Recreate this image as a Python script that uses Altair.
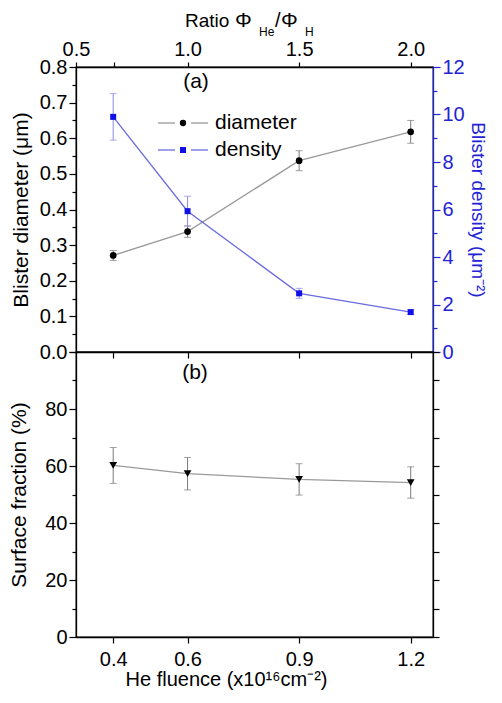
import altair as alt
import pandas as pd

# ---------------- data ----------------
fluence = [0.4, 0.6, 0.9, 1.2]
ratio = [0.67, 1.0, 1.5, 2.0]
diameter = [0.271, 0.338, 0.537, 0.618]
diameter_err = [0.014, 0.016, 0.028, 0.032]
density = [9.9, 5.93, 2.47, 1.68]
density_err = [0.98, 0.63, 0.21, 0.10]
surface = [60.2, 57.3, 55.3, 54.2]
surface_err = [6.3, 5.7, 5.5, 5.5]

x_ticks = [0.4, 0.6, 0.9, 1.2]
ratio_ticks = [0.5, 0.67, 1.0, 1.5, 2.0]
diam_ticks = [0.0, 0.05, 0.1, 0.15, 0.2, 0.25, 0.3, 0.35, 0.4, 0.45, 0.5, 0.55, 0.6, 0.65, 0.7, 0.75, 0.8]
dens_ticks = [0, 1, 2, 3, 4, 5, 6, 7, 8, 9, 10, 11, 12]
surf_ticks = [0, 10, 20, 30, 40, 50, 60, 70, 80, 90, 100]

FONT = "Liberation Sans"
BLUE = "#2323d6"
BLUE_LINE = "#6b6be0"
BLUE_MARK = "#1010e6"
GRAY = "#9a9a9a"
W = 357
H_TOP = 285
H_BOT = 285

df = pd.DataFrame({
    "fluence": fluence,
    "diameter": diameter,
    "d_lo": [v - e for v, e in zip(diameter, diameter_err)],
    "d_hi": [v + e for v, e in zip(diameter, diameter_err)],
    "density": density,
    "n_lo": [v - e for v, e in zip(density, density_err)],
    "n_hi": [v + e for v, e in zip(density, density_err)],
    "surface": surface,
    "s_lo": [v - e for v, e in zip(surface, surface_err)],
    "s_hi": [v + e for v, e in zip(surface, surface_err)],
})

x_scale = alt.Scale(domain=[0.3, 1.26], nice=False, zero=False)


def series(yfield, lo, hi, yscale, yaxis, xaxis, line_color, err_color, mark_color, shape, size):
    base = alt.Chart(df)
    X = alt.X("fluence:Q", scale=x_scale, axis=xaxis)
    rule = base.mark_rule(color=err_color, strokeWidth=1).encode(
        x=X, y=alt.Y(f"{lo}:Q", scale=yscale, axis=yaxis), y2=f"{hi}:Q")
    cap_lo = base.mark_tick(color=err_color, orient="horizontal", size=7, thickness=1).encode(
        x=X, y=alt.Y(f"{lo}:Q", scale=yscale, axis=yaxis))
    cap_hi = base.mark_tick(color=err_color, orient="horizontal", size=7, thickness=1).encode(
        x=X, y=alt.Y(f"{hi}:Q", scale=yscale, axis=yaxis))
    line = base.mark_line(color=line_color, strokeWidth=1.3).encode(
        x=X, y=alt.Y(f"{yfield}:Q", scale=yscale, axis=yaxis))
    pts = base.mark_point(filled=True, shape=shape, size=size, color=mark_color, opacity=1).encode(
        x=X, y=alt.Y(f"{yfield}:Q", scale=yscale, axis=yaxis))
    return alt.layer(rule, cap_lo, cap_hi, line, pts)


def text_mark(txt, x, y, size=21, color="black", align="center", baseline="middle"):
    return alt.Chart(pd.DataFrame({"t": [txt]})).mark_text(
        font=FONT, fontSize=size, color=color, align=align, baseline=baseline
    ).encode(text="t:N", x=alt.value(x), y=alt.value(y))


major01 = "abs(datum.value*10 - round(datum.value*10)) < 0.001"

ax_top_bottom = alt.Axis(orient="bottom", values=x_ticks, labels=False, title=None,
                         tickSize=6, grid=False)
ax_diam = alt.Axis(orient="left", values=diam_ticks,
                   labelExpr=f"{major01} ? format(datum.value, '.1f') : ''",
                   tickSize={"condition": {"test": major01, "value": 7}, "value": 4},
                   title="Blister diameter (μm)", titlePadding=8, labelPadding=2)
ax_dens = alt.Axis(orient="right", values=dens_ticks,
                   labelExpr="datum.value % 2 == 0 ? format(datum.value, 'd') : ''",
                   tickSize={"condition": {"test": "datum.value % 2 == 0", "value": 7}, "value": 4},
                   title="Blister density (μm⁻²)", titlePadding=3, labelPadding=2,
                   titleFontSize=19,
                   domainColor=BLUE, tickColor=BLUE, labelColor=BLUE, titleColor=BLUE)

diam_layer = series("diameter", "d_lo", "d_hi",
                    alt.Scale(domain=[0, 0.8], nice=False, zero=False), ax_diam, ax_top_bottom,
                    GRAY, "#7a7a7a", "black", "circle", 45)
dens_layer = series("density", "n_lo", "n_hi",
                    alt.Scale(domain=[0, 12], nice=False, zero=False), ax_dens, None,
                    BLUE_LINE, "#8a8ae8", BLUE_MARK, "square", 36)

top_axis = alt.Chart(pd.DataFrame({"ratio": ratio})).mark_point(opacity=0).encode(
    x=alt.X("ratio:Q", scale=alt.Scale(domain=[0.5, 2.1], nice=False, zero=False),
            axis=alt.Axis(orient="top", values=ratio_ticks, title=None, tickSize=5,
                          labelPadding=3, labelFlush=False,
                          labelExpr="abs(datum.value*2 - round(datum.value*2)) < 0.01 ? format(datum.value, '.1f') : ''")),
    y=alt.value(0))

# legend (manual) and annotations
leg_rows = []
for label, yv, lcol, mcol, shp in [("diameter", 56, GRAY, "black", "circle"),
                                   ("density", 83, BLUE_LINE, BLUE_MARK, "square")]:
    seg1 = alt.Chart(pd.DataFrame({"a": [0]})).mark_rule(color=lcol, strokeWidth=1.3).encode(
        x=alt.value(82), x2=alt.value(99), y=alt.value(yv))
    seg2 = alt.Chart(pd.DataFrame({"a": [0]})).mark_rule(color=lcol, strokeWidth=1.3).encode(
        x=alt.value(115), x2=alt.value(132), y=alt.value(yv))
    dot = alt.Chart(pd.DataFrame({"a": [0]})).mark_point(
        filled=True, shape=shp, size=36 if shp == "square" else 40, color=mcol, opacity=1).encode(
        x=alt.value(107), y=alt.value(yv))
    txt = text_mark(label, 139, yv, align="left")
    leg_rows += [seg1, seg2, dot, txt]

title_parts = [
    text_mark("Ratio", 109, -40, size=19, align="left", baseline="alphabetic"),
    text_mark("Φ", 159, -40, size=21, align="left", baseline="alphabetic"),
    text_mark("He", 183, -31, size=12, align="left", baseline="alphabetic"),
    text_mark("/", 199, -40, size=20, align="left", baseline="alphabetic"),
    text_mark("Φ", 205, -40, size=21, align="left", baseline="alphabetic"),
    text_mark("H", 229, -31, size=12, align="left", baseline="alphabetic"),
]

top = alt.layer(
    diam_layer, dens_layer, top_axis,
    text_mark("(a)", 120, 15),
    *leg_rows, *title_parts,
).resolve_scale(y="independent", x="independent").properties(width=W, height=H_TOP)

# ---------------- bottom panel ----------------
ax_surf = alt.Axis(orient="left", values=surf_ticks,
                   labelExpr="datum.value % 20 == 0 && datum.value < 100 ? format(datum.value, 'd') : ''",
                   tickSize={"condition": {"test": "datum.value % 20 == 0", "value": 7}, "value": 4},
                   title="Surface fraction  (%)", titlePadding=15, labelPadding=2)
ax_bottom = alt.Axis(orient="bottom", values=x_ticks, format=".1f", tickSize=6, labelPadding=6,
                     labelFlush=False, title="He fluence (x10¹⁶cm⁻²)", titlePadding=0,
                     titleFontSize=20, titleX=150)

surf_layer = series("surface", "s_lo", "s_hi",
                    alt.Scale(domain=[0, 100], nice=False, zero=False), ax_surf, ax_bottom,
                    GRAY, "#7a7a7a", "black", "triangle-down", 60)

right_axis = alt.Chart(pd.DataFrame({"v": [0, 100]})).mark_point(opacity=0).encode(
    y=alt.Y("v:Q", scale=alt.Scale(domain=[0, 100], nice=False, zero=False),
            axis=alt.Axis(orient="right", values=surf_ticks, labels=False, title=None,
                          tickSize=6)),
    x=alt.value(0))

bottom = alt.layer(surf_layer, right_axis, text_mark("(b)", 119, 21)).resolve_scale(
    y="independent").properties(width=W, height=H_BOT)

chart = alt.vconcat(top, bottom, spacing=0, bounds="flush").properties(
    padding={"left": 0, "right": 5, "top": 1, "bottom": 0}
).configure_axis(
    labelFont=FONT, titleFont=FONT, labelFontSize=20, titleFontSize=21,
    titleFontWeight="normal", labelColor="black", titleColor="black",
    domainColor="black", tickColor="black", domainWidth=1.3, tickWidth=1.2, grid=False,
).configure_view(stroke="black", strokeWidth=1.3)

chart.save("out.html", embed_options={"renderer": "svg", "actions": False})
